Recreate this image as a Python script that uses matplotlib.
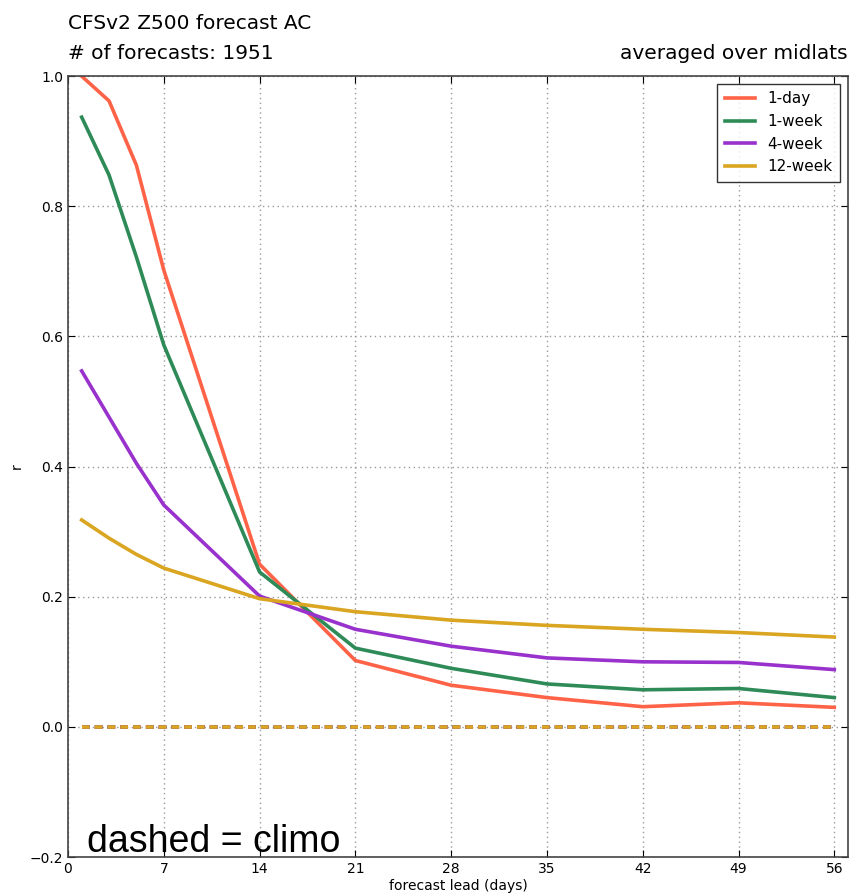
import numpy as np
import matplotlib
matplotlib.use("Agg")
import matplotlib.pyplot as plt

# forecast lead (days)
leads = [1, 3, 5, 7, 14, 21, 28, 35, 42, 49, 56]

# anomaly correlation for each averaging window
ac_1day = [1.0, 0.962, 0.863, 0.702, 0.250, 0.102, 0.064, 0.045, 0.031, 0.037, 0.030]
ac_1week = [0.937, 0.848, 0.722, 0.587, 0.238, 0.121, 0.090, 0.066, 0.057, 0.059, 0.045]
ac_4week = [0.547, 0.476, 0.405, 0.341, 0.201, 0.150, 0.124, 0.106, 0.100, 0.099, 0.088]
ac_12week = [0.318, 0.290, 0.265, 0.244, 0.197, 0.177, 0.164, 0.156, 0.150, 0.145, 0.138]

# climatology reference (dashed)
climo = [0.0] * len(leads)

labels = ["1-day", "1-week", "4-week", "12-week"]
colors = ["tomato", "seagreen", "darkorchid", "goldenrod"]
series = [ac_1day, ac_1week, ac_4week, ac_12week]

plt.rcParams["lines.scale_dashes"] = False

fig = plt.figure(figsize=(8.52, 8.96), dpi=100)
ax = fig.add_axes([0.0798, 0.0435, 0.9155, 0.8715])

for vals, lab, col in zip(series, labels, colors):
    ax.plot(leads, vals, color=col, lw=2.6, label=lab)
for col in colors:
    ax.plot(leads, climo, color=col, lw=2.6, dashes=(5.5, 3.7))

ax.set_xlim(0, 57)
ax.set_ylim(-0.2, 1.0)
ax.set_xticks(np.arange(0, 57, 7))
ax.set_yticks(np.arange(-0.2, 1.01, 0.2))
ax.grid(True, ls=(0, (1, 2.5)), color="#999999", lw=1)
ax.tick_params(direction="in", top=True, right=True, labelsize=10, length=5)
for sp in ax.spines.values():
    sp.set_color("#444444")
    sp.set_linewidth(1.2)

ax.set_xlabel("forecast lead (days)", fontsize=10, labelpad=2)
ax.set_ylabel("r", fontsize=10)

ax.set_title("CFSv2 Z500 forecast AC\n# of forecasts: 1951", loc="left",
             fontsize=14.5, pad=12, linespacing=1.75)
ax.set_title("averaged over midlats", loc="right", fontsize=14.5, pad=12)

ax.legend(loc="upper right", fontsize=11, frameon=True, fancybox=False,
          edgecolor="black", handlelength=2.0, borderpad=0.5)

ax.text(0.025, -0.004, "dashed = climo", transform=ax.transAxes,
        fontsize=27, family="Liberation Sans", ha="left", va="bottom")

fig.savefig("out.png", dpi=100)
